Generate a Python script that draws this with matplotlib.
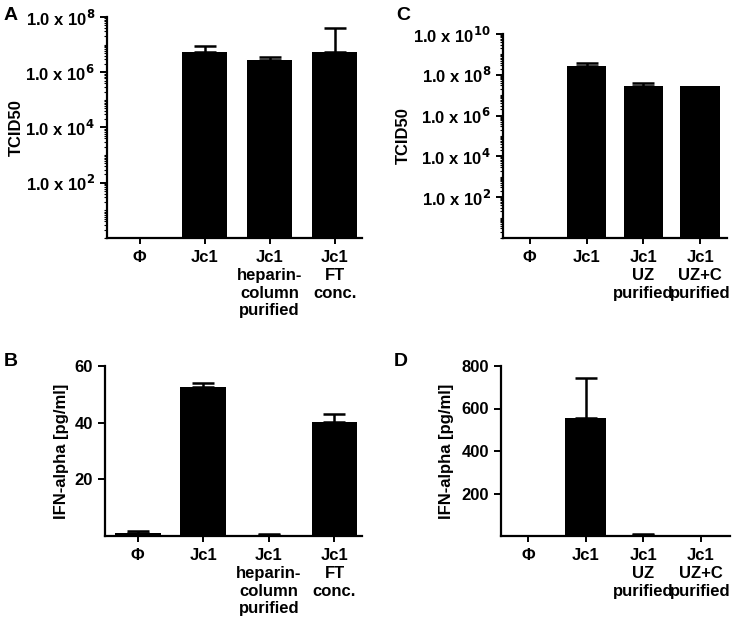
import matplotlib
matplotlib.use("Agg")
import matplotlib.pyplot as plt
import matplotlib.ticker as mticker
import numpy as np

plt.rcParams['font.family'] = ['Liberation Sans', 'DejaVu Sans']
plt.rcParams['font.weight'] = 'bold'

# Panel A
cats_A = ["Φ", "Jc1", "Jc1\nheparin-\ncolumn\npurified", "Jc1\nFT\nconc."]
vals_A = [0, 5.6e6, 2.7e6, 5.6e6]
err_A = [0, 3.4e6, 1.0e6, 3.6e7]

# Panel B
cats_B = cats_A
vals_B = [1.2, 52.6, 0.4, 40.1]
err_B = [0.4, 1.3, 0.2, 2.8]

# Panel C
cats_C = ["Φ", "Jc1", "Jc1\nUZ\npurified", "Jc1\nUZ+C\npurified"]
vals_C = [0, 2.6e8, 2.7e7, 2.7e7]
err_C = [0, 1.1e8, 1.2e7, 0]

# Panel D
cats_D = cats_C
vals_D = [0, 554, 6, 0.5]
err_D = [0, 191, 3, 0]

FS = 12

fig = plt.figure(figsize=(7.42, 6.22), dpi=100)

def style(ax):
    for s in ['top', 'right']:
        ax.spines[s].set_visible(False)
    for s in ['left', 'bottom']:
        ax.spines[s].set_linewidth(1.6)
    ax.tick_params(axis='both', width=1.4, length=5, labelsize=FS)
    ax.tick_params(axis='x', length=4, pad=5)
    for lab in ax.get_xticklabels() + ax.get_yticklabels():
        lab.set_fontweight('bold')

def draw_bars(ax, cats, vals, errs, log=False):
    x = np.arange(len(cats))
    v = np.array(vals, dtype=float)
    e = np.array(errs, dtype=float)
    ax.bar(x, v, width=0.7, color='black', zorder=2)
    mask = e > 0
    ax.errorbar(x[mask], v[mask], yerr=[np.zeros(mask.sum()), e[mask]], fmt='none',
                ecolor='black', elinewidth=1.8, capsize=8, capthick=1.8, zorder=3)
    ax.set_xticks(x)
    ax.set_xticklabels(cats, fontweight='bold', fontsize=FS, linespacing=1.22)

def log_label(val, pos):
    exp = int(round(np.log10(val)))
    return r"1.0 x 10$^{\mathbf{%d}}$" % exp

def log_axis(ax, top):
    ax.yaxis.set_major_locator(mticker.FixedLocator([10.0**k for k in range(2, top + 1, 2)]))
    ax.yaxis.set_major_formatter(mticker.FuncFormatter(log_label))
    ax.yaxis.set_minor_locator(mticker.LogLocator(base=10, subs=np.arange(1, 10), numticks=60))
    ax.yaxis.set_minor_formatter(mticker.NullFormatter())

# A
axA = fig.add_axes([107/742, 1-238/622, 255/742, 221/622])
axA.set_yscale('log')
draw_bars(axA, cats_A, vals_A, err_A, log=True)
axA.set_ylim(1, 1e8)
axA.set_xlim(-0.5, 3.42)
log_axis(axA, 8)
axA.set_ylabel("TCID50", fontweight='bold', fontsize=FS)
axA.yaxis.set_label_coords(-0.325, 0.5)
style(axA)
axA.tick_params(axis='y', which='minor', length=2.5, width=0.8)

# C
axC = fig.add_axes([503/742, 1-238/622, 224/742, 204/622])
axC.set_yscale('log')
draw_bars(axC, cats_C, vals_C, err_C, log=True)
axC.set_ylim(1, 1e10)
axC.set_xlim(-0.47, 3.47)
log_axis(axC, 10)
axC.set_ylabel("TCID50", fontweight='bold', fontsize=FS)
axC.yaxis.set_label_coords(-0.41, 0.5)
style(axC)
axC.tick_params(axis='y', which='minor', length=2.5, width=0.8)

# B
axB = fig.add_axes([105/742, 1-536/622, 257/742, 170/622])
draw_bars(axB, cats_B, vals_B, err_B)
axB.set_ylim(0, 60)
axB.set_xlim(-0.5, 3.42)
axB.set_yticks([20, 40, 60])
axB.set_ylabel("IFN-alpha [pg/ml]", fontweight='bold', fontsize=FS)
axB.yaxis.set_label_coords(-0.14, 0.5)
style(axB)

# D
axD = fig.add_axes([501/742, 1-536/622, 229/742, 170/622])
draw_bars(axD, cats_D, vals_D, err_D)
axD.set_ylim(0, 800)
axD.set_xlim(-0.47, 3.51)
axD.set_yticks([200, 400, 600, 800])
axD.set_ylabel("IFN-alpha [pg/ml]", fontweight='bold', fontsize=FS)
axD.yaxis.set_label_coords(-0.205, 0.5)
style(axD)

# Panel letters
for txt, xp, yp in [("A", 4, 15), ("C", 396, 15), ("B", 4, 362), ("D", 394, 362)]:
    fig.text(xp/742, 1-yp/622, txt, fontsize=14, fontweight='bold', ha='left', va='center')

fig.savefig("out.png", dpi=100)
